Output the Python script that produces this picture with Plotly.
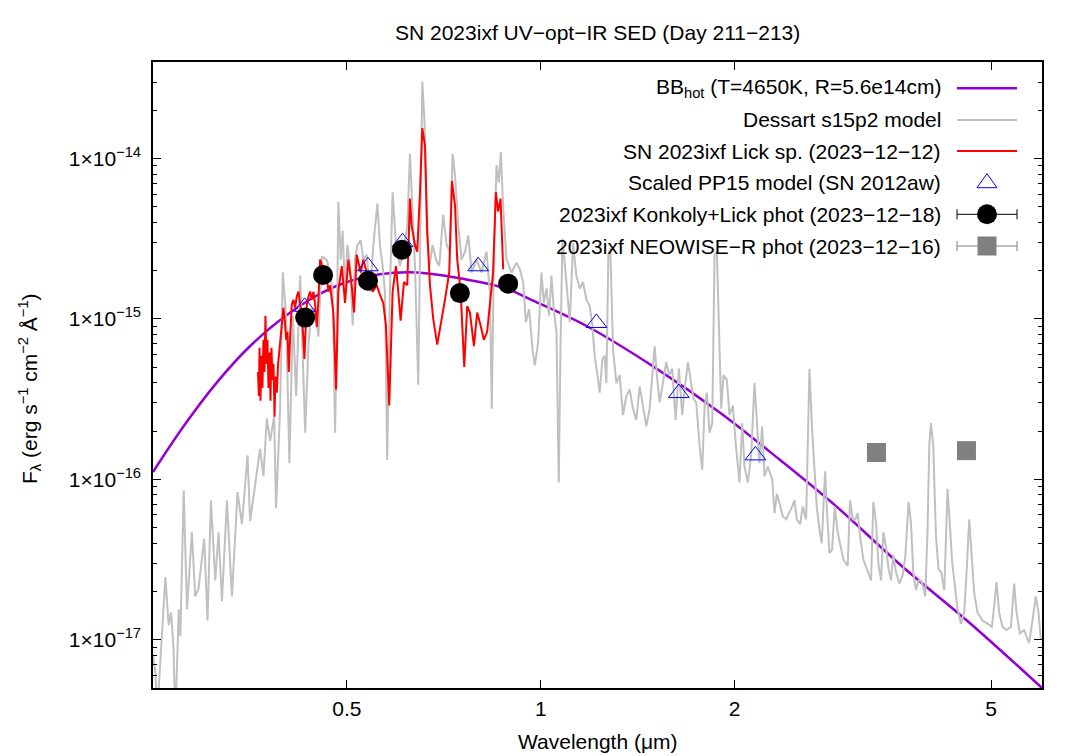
import numpy as np
import plotly.graph_objects as go

#### data ####

# blackbody fit (hot component), wavelength in micron, F_lambda in erg/s/cm2/A
bb_wave = [0.25, 0.2789, 0.3142, 0.3538, 0.3989, 0.4492, 0.4941, 0.5627, 0.6416, 0.7567,
           0.8858, 0.9614, 1.178, 1.492, 1.894, 2.347, 2.876, 3.641, 4.625, 6.0]
bb_flux = [1.11e-16, 2.14e-16, 4.02e-16, 6.78e-16, 1.023e-15, 1.40e-15, 1.67e-15, 1.90e-15, 1.95e-15, 1.78e-15,
           1.54e-15, 1.33e-15, 9.04e-16, 5.08e-16, 2.62e-16, 1.33e-16, 6.78e-17, 2.86e-17, 1.28e-17, 5.0e-18]

# Dessart s15p2 model spectrum (log10 F_lambda)
dessart_wave = [
    0.2500, 0.2521, 0.2539, 0.2613, 0.2644, 0.2667, 0.2690, 0.2708, 0.2741, 0.2757,
    0.2790, 0.2823, 0.2873, 0.2907, 0.2942, 0.2977, 0.3002, 0.3038, 0.3075, 0.3123,
    0.3160, 0.3199, 0.3256, 0.3315, 0.3382, 0.3436, 0.3505, 0.3538, 0.3623, 0.3666,
    0.3710, 0.3755, 0.3800, 0.3855, 0.3882, 0.3938, 0.3976, 0.4023, 0.4071, 0.4121,
    0.4171, 0.4231, 0.4307, 0.4358, 0.4411, 0.4463, 0.4516, 0.4571, 0.4653,
    0.4708, 0.4753, 0.4793, 0.4832, 0.4849, 0.4891, 0.4925, 0.4967, 0.5009, 0.5058,
    0.5105, 0.5147, 0.5190, 0.5254, 0.5302, 0.5367, 0.5431, 0.5496, 0.5575, 0.5627,
    0.5682, 0.5728, 0.5775, 0.5831, 0.5888, 0.5958, 0.6044, 0.6116, 0.6204, 0.6264,
    0.6325, 0.6378, 0.6453, 0.6493, 0.6547, 0.6603, 0.6651, 0.6714, 0.6795, 0.6875,
    0.6956, 0.7056, 0.7143, 0.7227, 0.7297, 0.7358, 0.7446, 0.7535, 0.7626, 0.7716,
    0.7810, 0.7950, 0.8091, 0.8237, 0.8335, 0.8394, 0.8454, 0.8536, 0.8608, 0.8670,
    0.8742, 0.8847, 0.9006, 0.9168,
    0.9278, 0.9389, 0.9479, 0.9592, 0.9708, 0.9788, 0.9904, 1.0024, 1.0108, 1.0205,
    1.0301, 1.0388, 1.0475, 1.0576, 1.0664, 1.0728, 1.0805, 1.0959, 1.1092, 1.1223,
    1.1357, 1.1494, 1.1630, 1.1771, 1.1912, 1.2025, 1.2125, 1.2226, 1.2345, 1.2463,
    1.2566, 1.2642, 1.2733, 1.2823, 1.2946, 1.3102, 1.3259, 1.3416, 1.3578, 1.3740,
    1.3903, 1.4071, 1.4240, 1.4408, 1.4582, 1.4757, 1.4897, 1.5021, 1.5146, 1.5293,
    1.5474, 1.5660, 1.5812, 1.6000, 1.6192, 1.6384, 1.6582, 1.6723, 1.6921, 1.7125,
    1.7268, 1.7432, 1.7642, 1.7810, 1.7961, 1.8110, 1.8282, 1.8458, 1.8612, 1.8767,
    1.8902, 1.9059, 1.9218, 1.9449, 1.9634, 1.9870, 2.0109, 2.0347, 2.0544, 2.0715,
    2.0960, 2.1213, 2.1468, 2.1647, 2.1852, 2.2065, 2.2249, 2.2512,
    2.2871, 2.3059, 2.3253, 2.3474, 2.3756, 2.4042, 2.4322, 2.4559, 2.4764, 2.4970,
    2.5270, 2.5510, 2.5818, 2.5973, 2.6129, 2.6377, 2.6597, 2.6818, 2.7078, 2.7304,
    2.7468, 2.7633, 2.7831, 2.8063, 2.8329, 2.8598, 2.8907, 2.9182, 2.9500, 2.9958,
    3.0209, 3.0496, 3.0792, 3.1046, 3.1305, 3.1682, 3.2174, 3.2563, 3.2835, 3.3147,
    3.3461, 3.3748, 3.4029, 3.4352, 3.4674, 3.4971, 3.5263, 3.5598, 3.6026, 3.6452,
    3.6806, 3.7240, 3.7559, 3.7871, 3.8239, 3.8593, 3.8923, 3.9247, 3.9528, 3.9857,
    4.0096, 4.0337, 4.0673, 4.1068, 4.1449, 4.1852, 4.2307, 4.2561, 4.2807, 4.3174,
    4.3483, 4.3845, 4.4363, 4.4907, 4.5437, 4.5879, 4.6251, 4.6636, 4.7089, 4.7645,
    4.8498, 4.9377, 5.0158, 5.0576, 5.0988, 5.1482, 5.2091, 5.2840, 5.3685, 5.4320,
    5.4772, 5.5432, 5.6294, 5.6763, 5.7302, 5.7993, 5.8691, 5.9249, 5.9756,
]
dessart_logf = [
    -17.10, -17.20, -17.45, -16.61, -16.91, -16.83, -17.05, -17.50, -16.81, -16.98,
    -16.07, -16.81, -16.33, -16.73, -16.68, -16.50, -16.37, -16.88, -16.13, -16.63,
    -16.33, -16.76, -16.13, -16.73, -16.08, -16.28, -15.85, -16.26, -15.98, -15.81,
    -15.98, -15.62, -15.76, -15.61, -16.18, -15.56, -14.71, -14.98, -15.90, -14.98,
    -15.48, -14.73, -15.71, -15.16, -14.93, -14.95, -15.11, -14.61, -14.63,
    -14.71, -14.83, -15.71, -14.83, -14.27, -14.63, -14.45, -14.83, -14.54, -14.67,
    -15.04, -14.63, -14.54, -14.51, -14.63, -14.60, -14.83, -14.54, -14.28, -14.54,
    -14.67, -14.83, -15.88, -14.83, -14.21, -14.54, -14.67, -14.58, -14.42, -13.97,
    -14.31, -14.67, -15.41, -14.63, -13.52, -13.79, -14.42, -14.67, -14.54, -14.63,
    -14.67, -14.35, -14.54, -14.58, -13.97, -14.10, -14.42, -14.63, -14.58, -14.48,
    -14.71, -14.63, -14.71, -14.58, -14.83, -15.56, -14.63, -14.04, -14.15, -13.96,
    -14.31, -14.63, -14.71, -14.65,
    -14.69, -14.77, -15.02, -14.94, -15.19, -15.29, -15.15, -14.71, -14.90, -14.81,
    -14.98, -14.73, -14.94, -15.08, -16.02, -15.19, -14.50, -14.77, -15.02, -14.53,
    -14.73, -14.81, -14.77, -14.88, -14.92, -15.04, -15.23, -15.33, -15.46, -15.25,
    -15.23, -15.40, -14.60, -14.56, -15.19, -15.40, -15.35, -15.60, -15.48, -15.44,
    -15.56, -15.63, -15.42, -15.54, -15.67, -15.56, -15.35, -15.17, -15.35, -15.52,
    -15.40, -15.27, -15.35, -15.31, -15.63, -15.31, -15.60, -15.44, -15.27, -15.42,
    -15.50, -15.52, -15.79, -15.94, -15.54, -15.46, -15.71, -15.65, -14.60, -14.58,
    -14.98, -15.56, -15.35, -15.38, -15.60, -15.54, -15.81, -16.02, -15.65, -15.92,
    -16.02, -15.85, -15.40, -15.65, -15.90, -15.67, -15.98, -15.92,
    -16.00, -16.21, -16.09, -16.15, -16.23, -16.25, -16.21, -16.17, -16.13, -16.25,
    -16.28, -16.17, -16.25, -15.79, -15.31, -15.69, -15.90, -16.17, -16.31, -16.40,
    -16.17, -15.95, -16.21, -16.46, -16.44, -16.17, -16.33, -16.42, -16.50, -16.54,
    -16.13, -16.25, -16.25, -16.21, -16.35, -16.50, -16.57, -16.63, -16.14, -16.27,
    -16.54, -16.63, -16.33, -16.42, -16.56, -16.63, -16.47, -16.58, -16.65, -16.60,
    -16.48, -16.14, -16.27, -16.58, -16.69, -16.63, -16.63, -16.67, -16.73, -16.31,
    -15.79, -15.65, -15.79, -16.35, -16.56, -16.58, -16.69, -16.31, -16.06, -16.29,
    -16.50, -16.63, -16.81, -16.90, -16.83, -16.54, -16.25, -16.46, -16.71, -16.83,
    -16.88, -16.90, -16.92, -16.79, -16.64, -16.83, -16.92, -16.94, -16.92, -16.65,
    -16.83, -16.96, -16.94, -16.98, -17.02, -16.88, -16.73, -16.83, -17.00,
]

# SN 2023ixf Lick spectrum 2023-12-12 (log10 F_lambda)
lick_wave = [
    0.3638, 0.3650, 0.3659, 0.3671, 0.3684, 0.3697, 0.3710, 0.3724, 0.3737, 0.3751,
    0.3764, 0.3778, 0.3791, 0.3805, 0.3818, 0.3832, 0.3846, 0.3860, 0.3873, 0.3892,
    0.3910, 0.3929, 0.3948, 0.3966, 0.3985, 0.4004, 0.4024, 0.4043, 0.4062, 0.4082,
    0.4106, 0.4130, 0.4155, 0.4180, 0.4205, 0.4231, 0.4256, 0.4281, 0.4296, 0.4312,
    0.4333, 0.4359, 0.4385, 0.4411, 0.4436, 0.4463, 0.4490, 0.4516, 0.4543, 0.4571,
    0.4597, 0.4625, 0.4653, 0.4680,
    0.4708, 0.4764, 0.4810, 0.4849, 0.4909, 0.4967, 0.5026, 0.5087, 0.5129, 0.5179,
    0.5254, 0.5302, 0.5367, 0.5483, 0.5562, 0.5627, 0.5694, 0.5749, 0.5817, 0.5888,
    0.5958, 0.6008, 0.6059, 0.6131, 0.6204, 0.6264, 0.6302, 0.6378, 0.6430, 0.6493,
    0.6547, 0.6610, 0.6664, 0.6729, 0.6808, 0.6906, 0.6991, 0.7100, 0.7209, 0.7279,
    0.7358, 0.7418, 0.7509, 0.7606, 0.7687, 0.7762, 0.7874, 0.7966, 0.8063, 0.8159,
    0.8255, 0.8335, 0.8433, 0.8516, 0.8586, 0.8660, 0.8742,
]
lick_logf = [
    -15.33, -15.48, -15.18, -15.51, -15.23, -15.43, -15.13, -15.33, -14.98, -15.28,
    -15.13, -15.43, -15.21, -15.51, -15.18, -15.38, -15.28, -15.61, -15.36, -15.46,
    -15.28, -15.18, -15.08, -14.98, -14.93, -15.01, -15.13, -15.08, -15.33, -15.11,
    -14.91, -14.88, -14.93, -14.86, -14.83, -14.91, -14.98, -15.13, -15.25, -15.08,
    -14.91, -14.86, -14.83, -14.88, -14.83, -14.91, -15.05, -14.88, -14.63, -14.66,
    -14.71, -14.68, -14.73, -14.83,
    -14.79, -14.96, -15.44, -14.83, -14.67, -14.90, -14.63, -14.79, -14.96, -14.60,
    -14.71, -14.63, -14.71, -14.83, -14.79, -14.85, -14.90, -15.04, -15.54, -14.83,
    -14.67, -14.83, -15.01, -14.77, -14.79, -14.25, -14.42, -14.54, -14.58, -14.21,
    -13.81, -13.92, -14.46, -14.79, -15.00, -15.16, -15.04, -14.88, -14.71, -14.14,
    -14.29, -14.63, -14.83, -15.30, -14.92, -14.96, -15.17, -14.96, -15.04, -15.13,
    -15.08, -14.92, -14.71, -14.21, -14.33, -14.25, -14.69,
]

# scaled PP15 model (SN 2012aw)
pp15_wave = [0.430, 0.539, 0.610, 0.7995, 1.220, 1.638, 2.154]
pp15_flux = [1.19e-15, 2.13e-15, 3.01e-15, 2.13e-15, 9.44e-16, 3.45e-16, 1.41e-16]

# Konkoly + Lick photometry (2023-12-18)
phot_wave = [0.4307, 0.4592, 0.5392, 0.6087, 0.7488, 0.8899]
phot_flux = [1.02e-15, 1.88e-15, 1.73e-15, 2.70e-15, 1.45e-15, 1.66e-15]

# NEOWISE-R photometry (2023-12-16)
wise_wave = [3.32, 4.58]
wise_flux = [1.47e-16, 1.51e-16]

# axis ticks
x_ticks = [0.5, 1, 2, 5]
x_labels = ['0.5', '1', '2', '5']
y_ticks = [1e-17, 1e-16, 1e-15, 1e-14]
y_labels = ['1×10<sup>−17</sup>', '1×10<sup>−16</sup>', '1×10<sup>−15</sup>', '1×10<sup>−14</sup>']

legend_labels = [
    'BB<sub>hot</sub> (T=4650K, R=5.6e14cm)',
    'Dessart s15p2 model',
    'SN 2023ixf Lick sp. (2023−12−12)',
    'Scaled PP15 model (SN 2012aw)',
    '2023ixf Konkoly+Lick phot (2023−12−18)',
    '2023ixf NEOWISE−R phot (2023−12−16)',
]

FONT = 'Liberation Sans, Arial, sans-serif'
FS = 21
PURPLE = '#9400d3'
GREY = '#c0c0c0'

# plot area in page pixels; the html body adds an 8px margin
L, R, T, B = 153, 1042, 62, 688
PAD = 8
W, H = 1080 - 2 * PAD, 756 - PAD


def px_x(p):
    return (p - L) / (R - L)


def px_y(p):
    return (B - p) / (B - T)


fig = go.Figure()

#### curves ####
fig.add_trace(go.Scatter(x=bb_wave, y=bb_flux, mode='lines', line=dict(color=PURPLE, width=2.5, shape='spline'),
                         showlegend=False))
fig.add_trace(go.Scatter(x=dessart_wave, y=10 ** np.array(dessart_logf), mode='lines',
                         line=dict(color=GREY, width=2), showlegend=False))
fig.add_trace(go.Scatter(x=lick_wave, y=10 ** np.array(lick_logf), mode='lines',
                         line=dict(color='#ff0000', width=2), showlegend=False))

#### points ####
fig.add_trace(go.Scatter(x=pp15_wave, y=pp15_flux, mode='markers',
                         marker=dict(symbol='triangle-up-open', size=18, color='#0000ff', line=dict(width=1)),
                         showlegend=False))
fig.add_trace(go.Scatter(x=phot_wave, y=phot_flux, mode='markers',
                         marker=dict(symbol='circle', size=20, color='black'), showlegend=False))
fig.add_trace(go.Scatter(x=wise_wave, y=wise_flux, mode='markers',
                         marker=dict(symbol='square', size=19, color='#808080'), showlegend=False))

#### gnuplot style key (text right-aligned, sample on the right) ####
rows = [88.3, 120, 151, 182.7, 214.3, 246]
shapes = []
annotations = []
for lab, ry in zip(legend_labels, rows):
    annotations.append(dict(text=lab, x=px_x(943), y=px_y(ry), xref='paper', yref='paper',
                            xanchor='right', yanchor='middle', showarrow=False,
                            font=dict(family=FONT, size=FS, color='black')))

kx0, kx1 = px_x(957), px_x(1017)
for ry, col, w in [(rows[0], PURPLE, 2.5), (rows[1], GREY, 2), (rows[2], '#ff0000', 2)]:
    shapes.append(dict(type='line', xref='paper', yref='paper', x0=kx0, x1=kx1, y0=px_y(ry), y1=px_y(ry),
                       line=dict(color=col, width=w)))

# triangle key
ty = rows[3]
tri = 'M {} {} L {} {} L {} {} Z'.format(px_x(977), px_y(ty + 5), px_x(997), px_y(ty + 5), px_x(987), px_y(ty - 9))
shapes.append(dict(type='path', xref='paper', yref='paper', path=tri, line=dict(color='#0000ff', width=1)))

# error bar keys
for ry, col in [(rows[4], 'black'), (rows[5], '#808080')]:
    shapes.append(dict(type='line', xref='paper', yref='paper', x0=kx0, x1=kx1, y0=px_y(ry), y1=px_y(ry),
                       line=dict(color=col, width=1)))
    for cx in (957, 1017):
        shapes.append(dict(type='line', xref='paper', yref='paper', x0=px_x(cx), x1=px_x(cx),
                           y0=px_y(ry - 5), y1=px_y(ry + 5), line=dict(color=col, width=1)))
shapes.append(dict(type='circle', xref='paper', yref='paper', x0=px_x(977), x1=px_x(997),
                   y0=px_y(rows[4] + 10), y1=px_y(rows[4] - 10), fillcolor='black', line=dict(width=0)))
shapes.append(dict(type='rect', xref='paper', yref='paper', x0=px_x(977.5), x1=px_x(996.5),
                   y0=px_y(rows[5] + 9.5), y1=px_y(rows[5] - 9.5), fillcolor='#808080', line=dict(width=0)))

#### titles ####
annotations.append(dict(text='SN 2023ixf UV−opt−IR SED (Day 211−213)', x=0.5, y=px_y(33), xref='paper',
                        yref='paper', xanchor='center', yanchor='middle', showarrow=False,
                        font=dict(family=FONT, size=FS, color='black')))
annotations.append(dict(text='Wavelength (μm)', x=0.5, y=px_y(742), xref='paper', yref='paper',
                        xanchor='center', yanchor='middle', showarrow=False,
                        font=dict(family=FONT, size=FS, color='black')))
annotations.append(dict(text='F<sub>λ</sub> (erg s<sup>−1</sup> cm<sup>−2</sup> Å<sup>−1</sup>)',
                        x=px_x(29), y=px_y(388), xref='paper', yref='paper', textangle=-90,
                        xanchor='center', yanchor='middle', showarrow=False,
                        font=dict(family=FONT, size=FS, color='black')))

y_minor = [k * 10.0 ** e for e in range(-18, -13) for k in range(2, 10)]

fig.update_layout(
    width=W, height=H, autosize=False,
    margin=dict(l=L - PAD, r=W - (R - PAD), t=T - PAD, b=H - (B - PAD)),
    paper_bgcolor='white', plot_bgcolor='white',
    font=dict(family=FONT, size=FS, color='black'),
    shapes=shapes, annotations=annotations,
    showlegend=False,
    xaxis=dict(type='log', range=[np.log10(0.25), np.log10(6.0)], tickmode='array',
               tickvals=x_ticks, ticktext=x_labels, ticks='inside', ticklen=8, tickwidth=1,
               tickcolor='black', showline=True, linecolor='black', linewidth=1.5, mirror='ticks',
               showgrid=False, zeroline=False, ticklabelstandoff=1),
    yaxis=dict(type='log', range=[np.log10(5e-18), np.log10(4e-14)], tickmode='array',
               tickvals=y_ticks, ticktext=y_labels, ticks='inside', ticklen=8, tickwidth=1,
               tickcolor='black', showline=True, linecolor='black', linewidth=1.5, mirror='ticks',
               showgrid=False, zeroline=False, ticklabelstandoff=6,
               minor=dict(tickmode='array', tickvals=y_minor, ticks='inside', ticklen=4,
                          tickcolor='black', showgrid=False)),
)

fig.write_html("out.html")
